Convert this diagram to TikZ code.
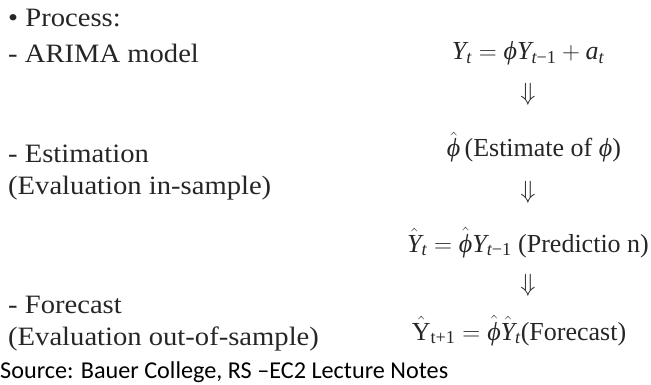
\documentclass[tikz,border=0pt]{standalone}
\usepackage{amsmath}
\usepackage{fontspec}
\setmainfont{Liberation Serif}
\newfontfamily\widefont[FakeStretch=1.08]{Liberation Serif}
\newfontfamily\srcfont{Carlito}
\newcommand\iY{\text{\itshape Y}}
\newcommand\rY{\text{Y}}
\newcommand\iphi{\text{\itshape ϕ}}
\newcommand\itx[1]{\text{\itshape #1}}
\tikzset{
  lbl/.style={anchor=base west, inner sep=0pt, font=\widefont\fontsize{26.5}{30}\selectfont, text=black!85},
  eq/.style={anchor=base, inner sep=0pt, font=\fontsize{26}{30}\selectfont, text=black!85},
  arr/.style={anchor=base, inner sep=0pt, font=\fontsize{24}{28}\selectfont, text=black!85},
  src/.style={anchor=base west, inner sep=0pt, font=\srcfont\fontsize{24.2}{30}\selectfont}
}
\begin{document}
\begin{tikzpicture}[x=1pt,y=1pt]
\useasboundingbox (0,0) rectangle (651,-385);
\node[lbl] (proc) at (8,-27) {• Process:};
\node[lbl] (arima) at (8,-63) {- ARIMA model};
\node[lbl] (est) at (8,-163) {- Estimation};
\node[lbl] (evin) at (8,-195) {(Evaluation in-sample)};
\node[lbl] (fc) at (8,-313) {- Forecast};
\node[lbl] (evout) at (8,-345) {(Evaluation out-of-sample)};
\node[eq] (e1) at (528,-60) {$\iY_{\itx{t}} = \iphi\iY_{\itx{t}\text{−1}} + \itx{a}_{\itx{t}}$};
\node[arr] (a1) at (528,-101) {$\Downarrow$};
\node[eq] (e2) at (534,-157) {$\hat{\iphi}\,$(Estimate of \textit{ϕ})};
\node[arr] (a2) at (528,-198) {$\Downarrow$};
\node[eq] (e3) at (528,-252) {$\hat{\iY}_{\itx{t}} = \hat{\iphi}\iY_{\itx{t}\text{−1}}$ (Predictio n)};
\node[arr] (a3) at (528,-291) {$\Downarrow$};
\node[eq] (e4) at (519,-340) {$\hat{\rY}_{\text{t+1}} = \hat{\iphi}\hat{\iY}_{\itx{t}}$(Forecast)};
\node[src] (source) at (0,-378) {Source: Bauer College, RS –EC2 Lecture Notes};
\end{tikzpicture}
\end{document}
